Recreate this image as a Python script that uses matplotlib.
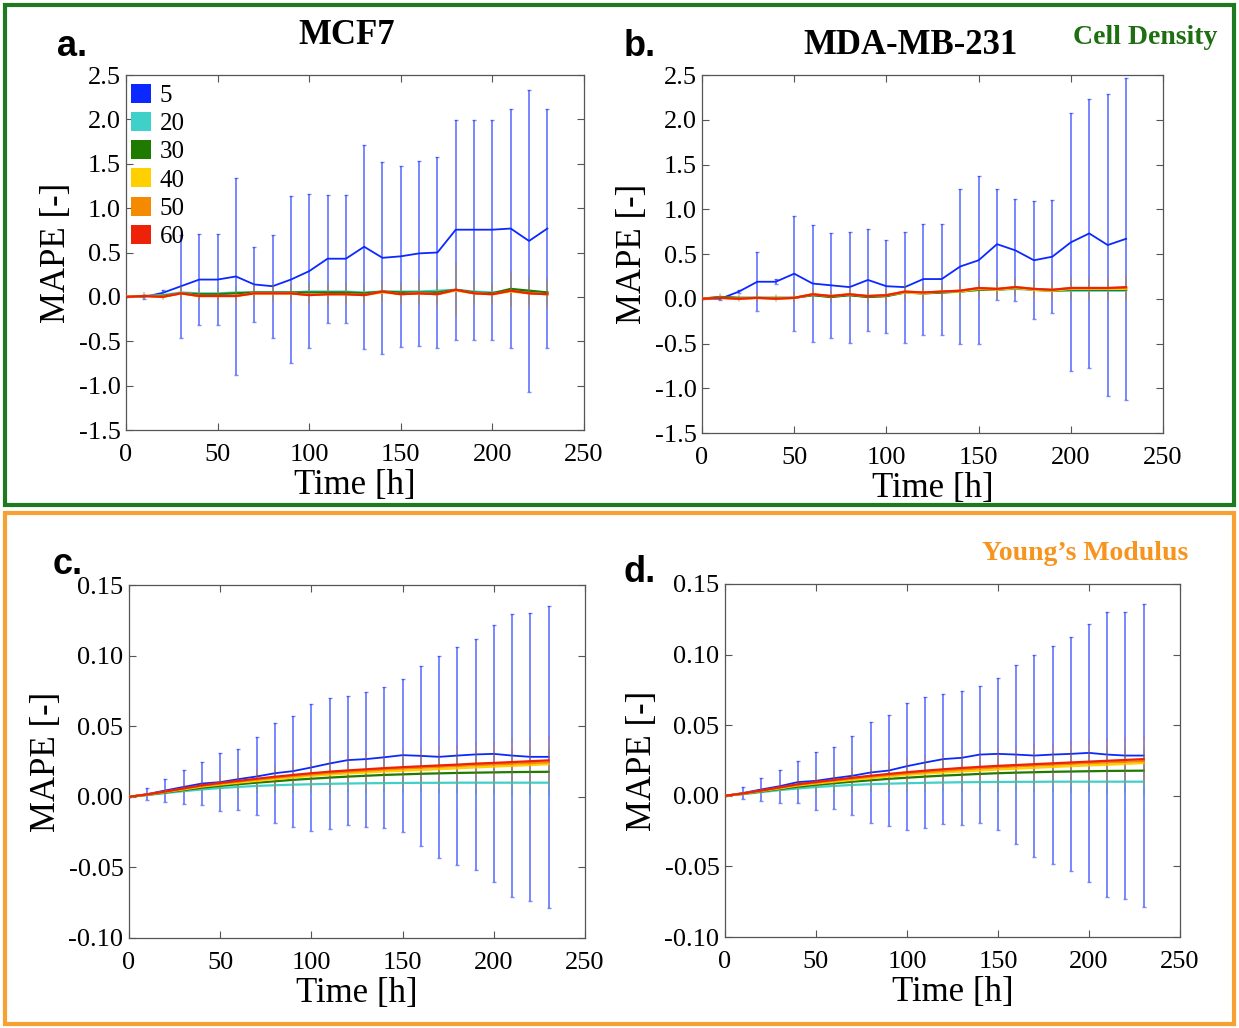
import matplotlib
matplotlib.use("Agg")
import matplotlib.pyplot as plt
from matplotlib.patches import Rectangle, Patch

# ---------------- data ----------------
time_h = [0, 10, 20, 30, 40, 50, 60, 70, 80, 90, 100, 110, 120, 130, 140,
          150, 160, 170, 180, 190, 200, 210, 220, 230]
groups = ["5", "20", "30", "40", "50", "60"]

# Panel a: MCF7, cell density
a_5 = [0, 0.0, 0.045, 0.12, 0.195, 0.195, 0.23, 0.14, 0.12, 0.195, 0.29, 0.43,
       0.43, 0.565, 0.44, 0.457, 0.49, 0.50, 0.757, 0.757, 0.757, 0.77, 0.63, 0.77]
a_5_err = [0, 0.02, 0.03, 0.58, 0.51, 0.51, 1.11, 0.42, 0.58, 0.94, 0.87, 0.72,
           0.72, 1.15, 1.08, 1.02, 1.04, 1.08, 1.24, 1.24, 1.24, 1.35, 1.70, 1.35]
a_20 = [0, 0.01, 0.02, 0.05, 0.04, 0.04, 0.05, 0.05, 0.05, 0.05, 0.06, 0.06,
        0.06, 0.05, 0.06, 0.06, 0.06, 0.07, 0.08, 0.06, 0.05, 0.07, 0.06, 0.05]
a_30 = [0, 0.01, 0.01, 0.04, 0.03, 0.03, 0.04, 0.05, 0.05, 0.05, 0.05, 0.05,
        0.05, 0.04, 0.06, 0.05, 0.05, 0.05, 0.08, 0.05, 0.04, 0.09, 0.07, 0.05]
a_40 = [0, 0.01, 0.0, 0.04, 0.01, 0.01, 0.01, 0.04, 0.04, 0.04, 0.02, 0.03,
        0.03, 0.02, 0.05, 0.03, 0.04, 0.03, 0.07, 0.04, 0.03, 0.06, 0.04, 0.03]
a_50 = [0, 0.01, 0.0, 0.04, 0.01, 0.01, 0.01, 0.04, 0.04, 0.04, 0.02, 0.03,
        0.03, 0.02, 0.06, 0.03, 0.04, 0.03, 0.08, 0.04, 0.03, 0.07, 0.04, 0.03]
a_60 = [0, 0.01, 0.0, 0.04, 0.01, 0.01, 0.01, 0.04, 0.04, 0.04, 0.02, 0.03,
        0.03, 0.02, 0.06, 0.03, 0.04, 0.03, 0.08, 0.04, 0.03, 0.07, 0.04, 0.03]
a_small_err = [0, 0.05, 0.04, 0.08, 0.07, 0.07, 0.08, 0.09, 0.1, 0.1, 0.12, 0.12,
               0.12, 0.1, 0.12, 0.12, 0.14, 0.14, 0.3, 0.14, 0.12, 0.2, 0.16, 0.16]

# Panel b: MDA-MB-231, cell density
b_5 = [0, 0, 0.08, 0.19, 0.19, 0.28, 0.17, 0.15, 0.13, 0.21, 0.14, 0.13,
       0.22, 0.22, 0.36, 0.43, 0.61, 0.54, 0.43, 0.47, 0.63, 0.73, 0.60, 0.67]
b_5_err = [0, 0.01, 0.02, 0.33, 0.03, 0.64, 0.65, 0.59, 0.62, 0.57, 0.52, 0.62,
           0.62, 0.62, 0.87, 0.94, 0.62, 0.57, 0.66, 0.63, 1.44, 1.50, 1.69, 1.80]
b_20 = [0, 0.02, 0.01, 0.01, 0.01, 0.01, 0.04, 0.02, 0.04, 0.02, 0.03, 0.07,
        0.06, 0.07, 0.08, 0.10, 0.10, 0.11, 0.10, 0.09, 0.09, 0.09, 0.09, 0.09]
b_30 = [0, 0.02, 0.01, 0.01, 0.01, 0.01, 0.04, 0.02, 0.04, 0.02, 0.03, 0.07,
        0.06, 0.07, 0.08, 0.10, 0.10, 0.12, 0.10, 0.09, 0.10, 0.10, 0.10, 0.10]
b_40 = [0, 0.01, 0.0, 0.01, 0.0, 0.01, 0.05, 0.03, 0.05, 0.03, 0.04, 0.07,
        0.06, 0.08, 0.08, 0.11, 0.10, 0.12, 0.10, 0.09, 0.11, 0.11, 0.11, 0.11]
b_50 = [0, 0.01, 0.0, 0.01, 0.0, 0.01, 0.05, 0.03, 0.05, 0.03, 0.04, 0.08,
        0.07, 0.08, 0.09, 0.12, 0.11, 0.13, 0.11, 0.10, 0.12, 0.12, 0.12, 0.12]
b_60 = [0, 0.01, 0.0, 0.01, 0.0, 0.01, 0.05, 0.03, 0.05, 0.03, 0.04, 0.08,
        0.07, 0.08, 0.09, 0.12, 0.11, 0.13, 0.11, 0.10, 0.12, 0.12, 0.12, 0.13]
b_small_err = [0, 0.04, 0.04, 0.05, 0.04, 0.06, 0.07, 0.07, 0.08, 0.08, 0.08, 0.09,
               0.09, 0.09, 0.1, 0.1, 0.1, 0.1, 0.1, 0.1, 0.12, 0.12, 0.12, 0.14]

# Panel c: MCF7, Young's modulus
c_5 = [0, 0.0019, 0.0045, 0.007, 0.0094, 0.0104, 0.0125, 0.0144, 0.0167, 0.0182,
       0.0208, 0.0236, 0.026, 0.0267, 0.028, 0.0295, 0.029, 0.0283, 0.0292, 0.030,
       0.0304, 0.0292, 0.0283, 0.0283]
c_5_err = [0, 0.0045, 0.0082, 0.0119, 0.0154, 0.0205, 0.0217, 0.0276, 0.0354,
           0.0393, 0.0452, 0.0464, 0.0457, 0.0478, 0.0498, 0.0542, 0.0637, 0.0715,
           0.0772, 0.082, 0.091, 0.1005, 0.102, 0.107]
c_20 = [0, 0.0012, 0.0026, 0.0040, 0.0052, 0.0062, 0.0070, 0.0077, 0.0082, 0.0086,
        0.0089, 0.0092, 0.0094, 0.0096, 0.0097, 0.0098, 0.0099, 0.0099, 0.0100,
        0.0100, 0.0100, 0.0100, 0.0100, 0.0100]
c_30 = [0, 0.0014, 0.0031, 0.0048, 0.0064, 0.0077, 0.0089, 0.0100, 0.0110, 0.0120,
        0.0128, 0.0136, 0.0143, 0.0149, 0.0155, 0.0159, 0.0163, 0.0166, 0.0169,
        0.0171, 0.0173, 0.0175, 0.0176, 0.0177]
c_40 = [0, 0.0015, 0.0034, 0.0053, 0.0073, 0.0087, 0.0100, 0.0113, 0.0125, 0.0137,
        0.0148, 0.0157, 0.0165, 0.0172, 0.0179, 0.0185, 0.0190, 0.0196, 0.0202,
        0.0208, 0.0214, 0.0219, 0.0225, 0.0231]
c_50 = [0, 0.0016, 0.0036, 0.0057, 0.0078, 0.0093, 0.0108, 0.0122, 0.0135, 0.0147,
        0.0158, 0.0168, 0.0177, 0.0185, 0.0193, 0.0200, 0.0206, 0.0212, 0.0218,
        0.0224, 0.0229, 0.0234, 0.0239, 0.0244]
c_60 = [0, 0.0017, 0.0038, 0.006, 0.0082, 0.0098, 0.0113, 0.0128, 0.0142, 0.0155,
        0.0167, 0.0178, 0.0187, 0.0195, 0.0203, 0.021, 0.0216, 0.0222, 0.0228,
        0.0235, 0.024, 0.0246, 0.0252, 0.0258]
c_small_err = [0, 0.001, 0.002, 0.003, 0.004, 0.005, 0.006, 0.007, 0.008, 0.009,
               0.01, 0.011, 0.011, 0.012, 0.012, 0.013, 0.013, 0.014, 0.014, 0.015,
               0.015, 0.016, 0.016, 0.017]

# Panel d: MDA-MB-231, Young's modulus
d_5 = [0, 0.002, 0.0045, 0.0068, 0.0097, 0.0106, 0.0125, 0.0142, 0.0165, 0.0179,
       0.021, 0.0236, 0.026, 0.0269, 0.0292, 0.0297, 0.0292, 0.0285, 0.0292, 0.0297,
       0.0304, 0.0292, 0.0285, 0.0285]
d_5_err = [0, 0.0044, 0.0082, 0.0118, 0.0151, 0.0205, 0.0219, 0.028, 0.0356, 0.0396,
           0.045, 0.0464, 0.0459, 0.0476, 0.0486, 0.054, 0.0635, 0.0715, 0.0772,
           0.0828, 0.0916, 0.1008, 0.1019, 0.1071]
d_20 = [0, 0.0012, 0.0026, 0.0040, 0.0052, 0.0062, 0.0070, 0.0077, 0.0082, 0.0086,
        0.0089, 0.0092, 0.0094, 0.0096, 0.0097, 0.0098, 0.0099, 0.0099, 0.0100,
        0.0100, 0.0100, 0.0100, 0.0100, 0.0100]
d_30 = [0, 0.0014, 0.0031, 0.0048, 0.0064, 0.0077, 0.0089, 0.0100, 0.0110, 0.0120,
        0.0128, 0.0136, 0.0143, 0.0149, 0.0155, 0.0160, 0.0164, 0.0167, 0.0170,
        0.0172, 0.0174, 0.0176, 0.0177, 0.0178]
d_40 = [0, 0.0015, 0.0034, 0.0053, 0.0073, 0.0087, 0.0100, 0.0113, 0.0125, 0.0137,
        0.0148, 0.0157, 0.0165, 0.0172, 0.0179, 0.0186, 0.0192, 0.0198, 0.0204,
        0.0210, 0.0215, 0.0220, 0.0226, 0.0232]
d_50 = [0, 0.0016, 0.0036, 0.0057, 0.0078, 0.0093, 0.0108, 0.0122, 0.0135, 0.0147,
        0.0158, 0.0168, 0.0177, 0.0186, 0.0194, 0.0201, 0.0208, 0.0214, 0.0220,
        0.0226, 0.0231, 0.0236, 0.0241, 0.0246]
d_60 = [0, 0.0017, 0.0038, 0.006, 0.0082, 0.0098, 0.0113, 0.0128, 0.0142, 0.0155,
        0.0167, 0.0178, 0.0188, 0.0197, 0.0205, 0.0212, 0.0218, 0.0224, 0.0230,
        0.0236, 0.0242, 0.0248, 0.0254, 0.0260]
d_small_err = c_small_err

colors = ["#0a28ff", "#3fd0c9", "#1e7b00", "#ffd000", "#f48a00", "#ee2208"]

panels = [
    dict(series=[a_5, a_20, a_30, a_40, a_50, a_60], err5=a_5_err, errs=a_small_err,
         ylim=(-1.5, 2.5), yticks=[-1.5, -1.0, -0.5, 0.0, 0.5, 1.0, 1.5, 2.0, 2.5], fmt="%.1f",
         rect_px=(126, 75, 584, 430)),
    dict(series=[b_5, b_20, b_30, b_40, b_50, b_60], err5=b_5_err, errs=b_small_err,
         ylim=(-1.5, 2.5), yticks=[-1.5, -1.0, -0.5, 0.0, 0.5, 1.0, 1.5, 2.0, 2.5], fmt="%.1f",
         rect_px=(702, 75, 1163, 433)),
    dict(series=[c_5, c_20, c_30, c_40, c_50, c_60], err5=c_5_err, errs=c_small_err,
         ylim=(-0.10, 0.15), yticks=[-0.10, -0.05, 0.0, 0.05, 0.10, 0.15], fmt="%.2f",
         rect_px=(129, 585, 585, 938)),
    dict(series=[d_5, d_20, d_30, d_40, d_50, d_60], err5=d_5_err, errs=d_small_err,
         ylim=(-0.10, 0.15), yticks=[-0.10, -0.05, 0.0, 0.05, 0.10, 0.15], fmt="%.2f",
         rect_px=(725, 584, 1180, 937)),
]

W, H = 1239, 1028
fig = plt.figure(figsize=(W / 100, H / 100), dpi=100)
SERIF = ["Liberation Serif", "DejaVu Serif"]
SANS = ["Liberation Sans", "DejaVu Sans"]
plt.rcParams["font.family"] = SERIF

axes = []
for p in panels:
    l, t, r, b = p["rect_px"]
    ax = fig.add_axes([l / W, 1 - b / H, (r - l) / W, (b - t) / H])
    axes.append(ax)
    for i, (ys, col) in enumerate(zip(p["series"], colors)):
        if i == 0:
            eb = ax.errorbar(time_h, ys, yerr=p["err5"], color=col, ecolor=col,
                             elinewidth=1.4, capsize=1.5, capthick=1.0, lw=1.3,
                             zorder=3)
            eb.lines[2][0].set_alpha(0.55)
            for cap in eb.lines[1]:
                cap.set_alpha(0.55)
        else:
            eb = ax.errorbar(time_h, ys, yerr=p["errs"], color=col, ecolor=col,
                             elinewidth=1.2, capsize=0, lw=1.6, zorder=4 + i)
            eb.lines[2][0].set_alpha(0.12)
    ax.set_xlim(0, 250)
    ax.set_ylim(*p["ylim"])
    ax.set_xticks([0, 50, 100, 150, 200, 250])
    ax.set_yticks(p["yticks"])
    ax.set_yticklabels([p["fmt"] % v for v in p["yticks"]])
    ax.tick_params(direction="in", top=True, right=True, length=5, width=0.8,
                   color="#555555", labelsize=19)
    ax.tick_params(axis="x", pad=10)
    ax.tick_params(axis="y", pad=4)
    for s in ax.spines.values():
        s.set_color("#555555")
        s.set_linewidth(0.9)
    ax.set_xlabel("Time [h]", fontsize=25, labelpad=2)
    ax.set_ylabel("MAPE [-]", fontsize=25, labelpad=4)

# legend in panel a
handles = [Patch(facecolor=c, edgecolor="none") for c in colors]
axes[0].legend(handles, groups, loc="upper left", bbox_to_anchor=(-0.022, 1.018),
               frameon=False, fontsize=18, handlelength=0.8, handleheight=0.8,
               handletextpad=0.35, labelspacing=0.2, borderaxespad=0.2)

# frames
fig.patches.append(Rectangle((5 / W, 1 - 505 / H), 1229 / W, 500 / H, transform=fig.transFigure,
                             fill=False, edgecolor="#1f7a1f", lw=3))
fig.patches.append(Rectangle((5 / W, 1 - 1024 / H), 1229 / W, 511 / H, transform=fig.transFigure,
                             fill=False, edgecolor="#f7a133", lw=3))

def ftext(x, y, s, **kw):
    fig.text(x / W, 1 - y / H, s, ha="center", va="center", **kw)

ftext(72, 47, "a.", fontsize=26, fontweight="bold", family=SANS)
ftext(640, 47, "b.", fontsize=26, fontweight="bold", family=SANS)
ftext(68, 565, "c.", fontsize=26, fontweight="bold", family=SANS)
ftext(640, 572, "d.", fontsize=26, fontweight="bold", family=SANS)
ftext(347, 35, "MCF7", fontsize=25, fontweight="bold")
ftext(910, 45, "MDA-MB-231", fontsize=25, fontweight="bold")
ftext(1145, 38, "Cell Density", fontsize=20, fontweight="bold", color="#1e6e12")
ftext(1085, 553, "Young\u2019s Modulus", fontsize=20, fontweight="bold", color="#f7941d")

fig.savefig("out.png", dpi=100)
